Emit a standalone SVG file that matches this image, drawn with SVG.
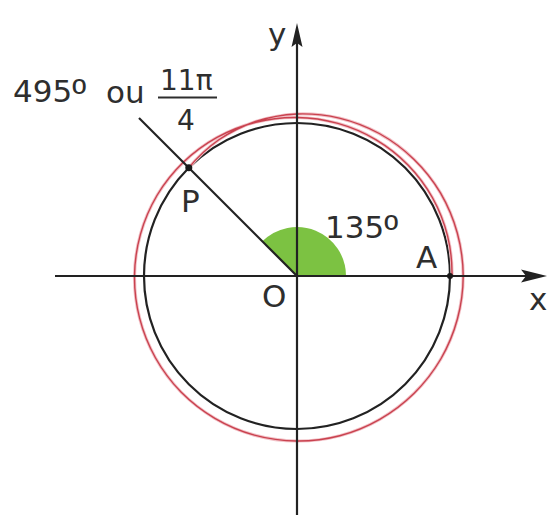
<svg xmlns="http://www.w3.org/2000/svg" width="548" height="515" viewBox="0 0 548 515">
<style>
.ax{stroke:#222;stroke-width:2.2;fill:none}
.circ{stroke:#222;stroke-width:2.2;fill:none}
.sp{stroke:#c9424f;stroke-width:1.4;fill:none}
.halo{stroke:#f2c0c6;stroke-width:3.2;fill:none}
.t{font-family:"DejaVu Sans","Liberation Sans",Arial,sans-serif;fill:#2e2e2e;font-size:31px}
.deg{font-family:"Liberation Sans",Arial,sans-serif;font-size:38px}
.hd{fill:#222}
.dot{fill:#1a1a1a}
</style>
<defs>
<path id="spath" d="M452,276 A155.8,155.8 0 0 0 447.5,235.7 A156.5,156.5 0 0 0 432.5,197.75 A157,157 0 0 0 408,165 A157.5,157.5 0 0 0 375.75,139.6 A158,158 0 0 0 337.9,123.4 A158.5,158.5 0 0 0 297,117.5 A159.2,159.2 0 0 0 255.8,122.2 A160,160 0 0 0 217,137.4 A160.8,160.8 0 0 0 183.3,162.3 A161.5,161.5 0 0 0 157.1,195.25 A162,162 0 0 0 140.5,234.1 A162.5,162.5 0 0 0 134.5,276 A163,163 0 0 0 139.6,318.2 A163.5,163.5 0 0 0 155.4,357.75 A164,164 0 0 0 181,392 A164.3,164.3 0 0 0 214.85,418.3 A164.7,164.7 0 0 0 254.4,435.1 A165,165 0 0 0 297,441 A165.3,165.3 0 0 0 339.8,435.7 A165.5,165.5 0 0 0 379.75,419.3 A165.8,165.8 0 0 0 414.2,393.2 A166,166 0 0 0 440.8,359 A166.1,166.1 0 0 0 457.4,319 A166.2,166.2 0 0 0 463.2,276 A166,166 0 0 0 457.3,233 A165.8,165.8 0 0 0 440.6,193.1 A165.2,165.2 0 0 0 413.8,159.2 A164.5,164.5 0 0 0 379.25,133.5 A163.5,163.5 0 0 0 339.3,118.1 A162,162 0 0 0 297,114 A160,160 0 0 0 255.6,121.5 A157,157 0 0 0 218.5,140 A153,153 0 0 0 188.8,167.8"/>
</defs>
<rect width="548" height="515" fill="#fff"/>
<g id="angle-sector">
<path d="M297,276 L346,276 A49,49 0 0 0 262.35,241.35 Z" fill="#7cc242"/>
</g>
<g id="circle">
<circle class="circ" cx="297" cy="276" r="153"/>
</g>
<g id="spiral">
<use href="#spath" class="halo"/>
<use href="#spath" class="sp"/>
</g>
<g id="connectors">
<line class="ax" x1="55" y1="276" x2="528" y2="276"/>
<polygon class="hd" points="547,276 521,269.5 526,276 521,282.5"/>
<line class="ax" x1="297" y1="515" x2="297" y2="42"/>
<polygon class="hd" points="297,23 291.5,47 297,43 302.5,47"/>
<line class="ax" x1="297" y1="276" x2="139" y2="118"/>
</g>
<g id="origin-O">
<text class="t" x="262" y="307">O</text>
</g>
<g id="point-P">
<circle class="dot" cx="188.8" cy="167.8" r="3.5"/>
<text class="t" x="181" y="212">P</text>
</g>
<g id="point-A">
<circle class="dot" cx="450" cy="276" r="3"/>
<text class="t" x="416" y="268">A</text>
</g>
<g id="axis-x-label">
<text class="t" x="529" y="310">x</text>
</g>
<g id="axis-y-label">
<text class="t" x="268" y="45">y</text>
</g>
<g id="angle-label">
<text class="t" x="325" y="238">135<tspan class="deg" dy="4">º</tspan></text>
</g>
<g id="arc-label">
<text class="t" x="13" y="102">495<tspan class="deg" dy="4">º</tspan></text>
<text class="t" x="106" y="103">ou</text>
<text class="t" x="160" y="90" style="font-size:28px">11π</text>
<line x1="158" y1="97.5" x2="217" y2="97.5" stroke="#2e2e2e" stroke-width="2"/>
<text class="t" x="186" y="130" style="font-size:28px" text-anchor="middle">4</text>
</g>
</svg>
